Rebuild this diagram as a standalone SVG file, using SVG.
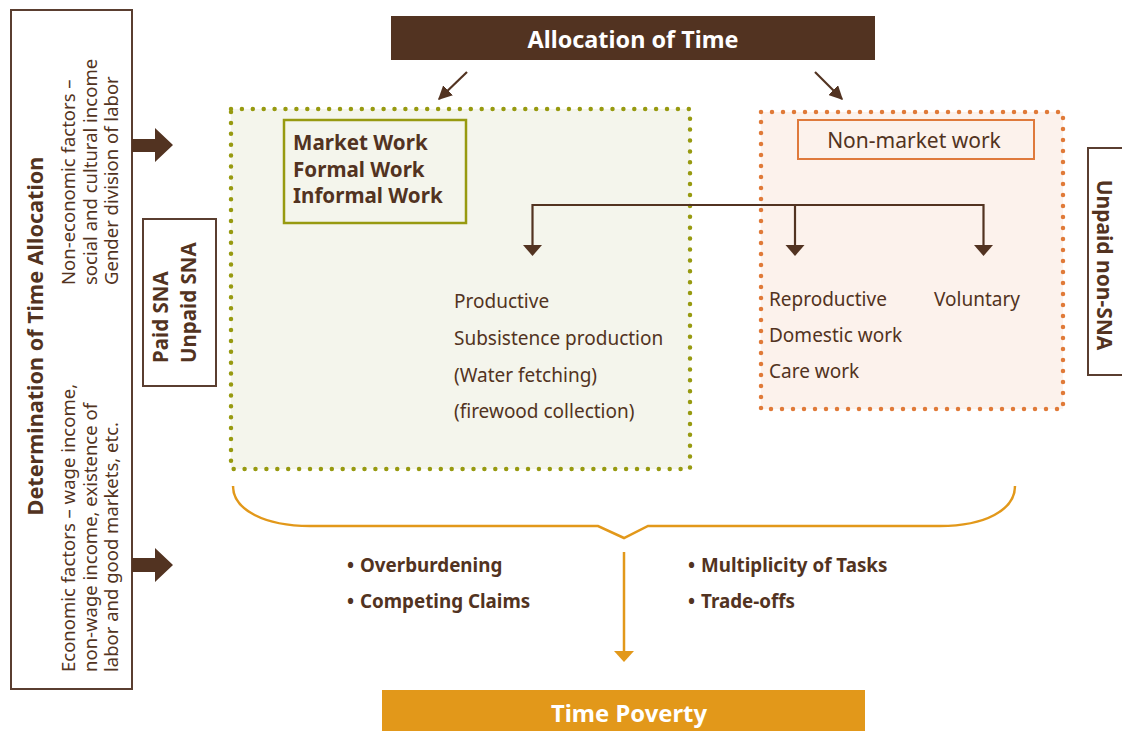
<svg xmlns="http://www.w3.org/2000/svg" width="1122" height="731" viewBox="0 0 1122 731">
<style>
text{font-family:"Noto Sans","Open Sans","Liberation Sans",sans-serif;fill:#523321}
.b{font-weight:bold}
.r{font-size:19px}
.l{font-size:18.5px}
.w{fill:#ffffff}
.bl{font-weight:bold;font-size:18.8px}
.mw{font-weight:bold;font-size:20.6px}
.frame{fill:#ffffff;stroke:#5a3e30;stroke-width:2}
.conn{fill:none;stroke:#523321;stroke-width:2.2}
.gold{fill:none;stroke:#e2981a;stroke-width:2.5}
</style>
<defs>
<marker id="ah" viewBox="0 0 10 10" refX="9" refY="5" markerWidth="14" markerHeight="14" markerUnits="userSpaceOnUse" orient="auto">
<path d="M0,0 L10,5 L0,10 Z" fill="#523321"/>
</marker>
</defs>
<rect width="1122" height="731" fill="#ffffff"/>

<g id="determination">
<rect class="frame" x="11" y="10" width="121" height="679"/>
<text class="b" font-size="21.6" transform="translate(43,336) rotate(-90)" text-anchor="middle">Determination of Time Allocation</text>
<text class="l" transform="translate(75,285) rotate(-90)">Non-economic factors –</text>
<text class="l" transform="translate(97,285) rotate(-90)">social and cultural income</text>
<text class="l" transform="translate(118,285) rotate(-90)">Gender division of labor</text>
<text class="l" transform="translate(75,672) rotate(-90)">Economic factors – wage income,</text>
<text class="l" transform="translate(97,672) rotate(-90)">non-wage income, existence of</text>
<text class="l" transform="translate(118,672) rotate(-90)">labor and good markets, etc.</text>
</g>

<g id="sna">
<rect class="frame" x="143" y="219" width="73" height="167"/>
<text class="b" font-size="20.5" transform="translate(168,363) rotate(-90)">Paid SNA</text>
<text class="b" font-size="20.5" transform="translate(196,363) rotate(-90)">Unpaid SNA</text>
</g>

<g id="allocation">
<rect x="391" y="16" width="484" height="44" fill="#523321"/>
<text class="b w" font-size="23.4" x="633" y="48" text-anchor="middle">Allocation of Time</text>
</g>

<g id="market-area">
<rect x="231" y="109" width="459" height="360" fill="#f4f5ec" stroke="#979a10" stroke-width="4.5" stroke-dasharray="0 10.9" stroke-linecap="round"/>
</g>

<g id="market-work">
<rect x="284" y="120" width="182" height="103" fill="#f4f5ec" stroke="#979a10" stroke-width="2.5"/>
<text class="mw" x="293" y="150">Market Work</text>
<text class="mw" x="293" y="177">Formal Work</text>
<text class="mw" x="293" y="203">Informal Work</text>
</g>

<g id="productive">
<text class="r" x="454" y="308">Productive</text>
<text class="r" x="454" y="345">Subsistence production</text>
<text class="r" x="454" y="382">(Water fetching)</text>
<text class="r" x="454" y="418">(firewood collection)</text>
</g>

<g id="nonmarket-area">
<rect x="761" y="112" width="302" height="297" fill="#fcf2ec" stroke="#e07a38" stroke-width="4.5" stroke-dasharray="0 11" stroke-linecap="round"/>
</g>

<g id="nonmarket-work">
<rect x="798" y="120" width="236" height="39" fill="#fcf2ec" stroke="#df7a3c" stroke-width="2"/>
<text font-size="21" x="914" y="148" text-anchor="middle">Non-market work</text>
</g>

<g id="reproductive">
<text class="r" x="769" y="306">Reproductive</text>
<text class="r" x="769" y="342">Domestic work</text>
<text class="r" x="769" y="378">Care work</text>
</g>

<g id="voluntary">
<text class="r" x="934" y="306">Voluntary</text>
</g>

<g id="unpaid-nonsna">
<rect class="frame" x="1088" y="148" width="60" height="227"/>
<text class="b" font-size="21" transform="translate(1097,265) rotate(90)" text-anchor="middle">Unpaid non-SNA</text>
</g>

<g id="effects">
<text class="bl" x="347" y="572">• <tspan x="360">Overburdening</tspan></text>
<text class="bl" x="347" y="608">• <tspan x="360">Competing Claims</tspan></text>
<text class="bl" x="688" y="572">• <tspan x="701">Multiplicity of Tasks</tspan></text>
<text class="bl" x="688" y="608">• <tspan x="701">Trade-offs</tspan></text>
</g>

<g id="time-poverty">
<rect x="382" y="690" width="483" height="41" fill="#e2981a"/>
<text class="b w" font-size="23.8" x="629" y="722" text-anchor="middle">Time Poverty</text>
</g>

<g id="connectors">
<polygon points="132,139 155,139 155,128 173,145 155,162 155,152 132,152" fill="#523321"/>
<polygon points="132,558 155,558 155,548 173,565 155,582 155,572 132,572" fill="#523321"/>
<line class="conn" x1="467" y1="72" x2="439" y2="99" stroke-width="2.5" marker-end="url(#ah)"/>
<line class="conn" x1="815" y1="72" x2="842" y2="99" stroke-width="2.5" marker-end="url(#ah)"/>
<polyline class="conn" points="532.5,246 532.5,205 983.5,205 983.5,246"/>
<line class="conn" x1="795" y1="205" x2="795" y2="246"/>
<polygon points="523,245 542,245 532.5,256" fill="#523321"/>
<polygon points="785.5,245 804.5,245 795,256" fill="#523321"/>
<polygon points="974,245 993,245 983.5,256" fill="#523321"/>
<path class="gold" d="M233,486 C233,510 265,526 310,526 L598,526 L624,538 L648,526 L940,526 C985,526 1015,510 1015,486"/>
<line class="gold" x1="624" y1="552" x2="624" y2="652"/>
<polygon points="614,651 634,651 624,662" fill="#e2981a"/>
</g>
</svg>
